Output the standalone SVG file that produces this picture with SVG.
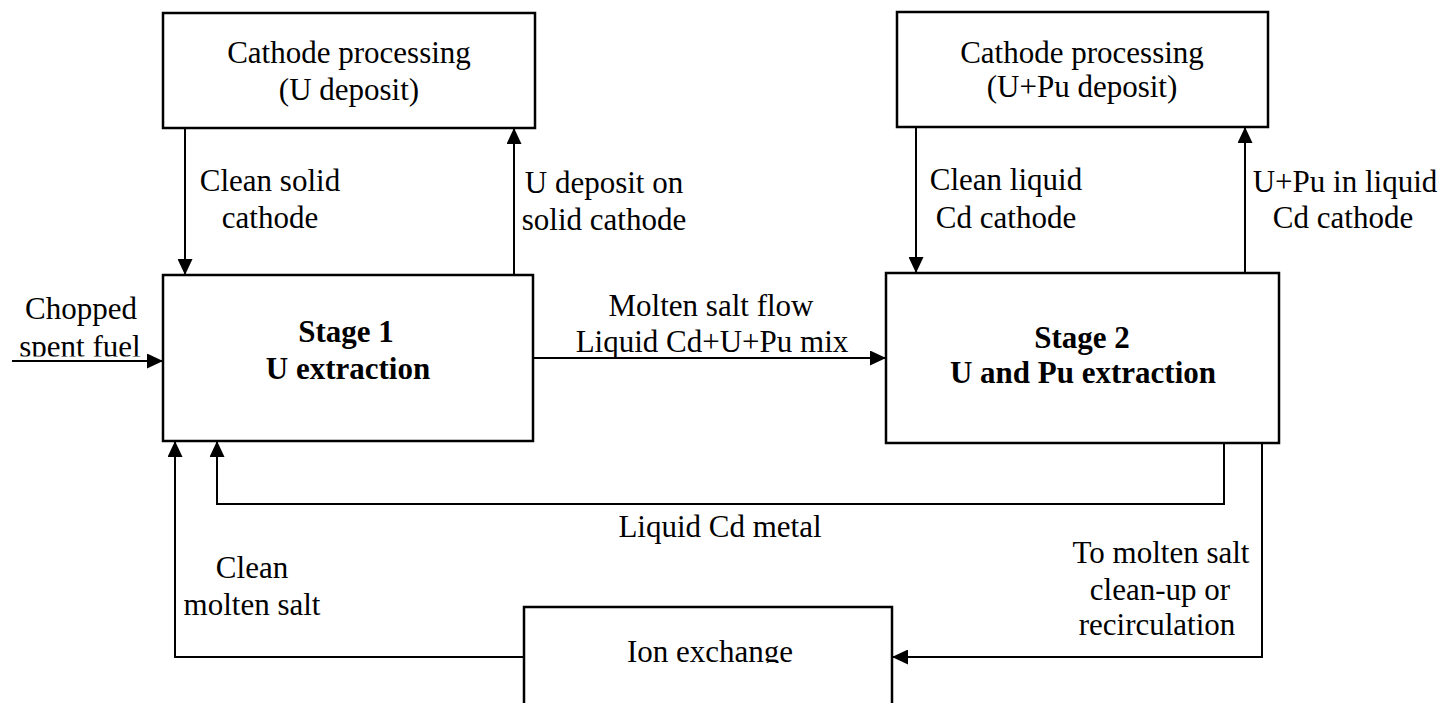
<svg xmlns="http://www.w3.org/2000/svg" width="1447" height="703" viewBox="0 0 1447 703">
<style>
.box{fill:#fff;stroke:#000;stroke-width:2.5}
.c{fill:none;stroke:#000;stroke-width:2}
text{font-family:"Liberation Serif","Times New Roman",serif;font-size:31px;fill:#000;text-anchor:middle}
.b{font-weight:bold}
</style>
<defs>
<marker id="ah" markerWidth="17" markerHeight="15" refX="16" refY="7.5" orient="auto" markerUnits="userSpaceOnUse">
<path d="M0,0 L16,7.5 L0,15 Z" fill="#000"/>
</marker>
<clipPath id="clipSpent"><rect x="0" y="320" width="160" height="36.5"/></clipPath>
<clipPath id="clipIon"><rect x="526" y="609" width="364" height="54"/></clipPath>
</defs>
<rect width="1447" height="703" fill="#fff"/>

<g id="connectors">
<line class="c" x1="185" y1="128" x2="185" y2="275" marker-end="url(#ah)"/>
<line class="c" x1="514" y1="275" x2="514" y2="128" marker-end="url(#ah)"/>
<line class="c" x1="916" y1="127" x2="916" y2="273" marker-end="url(#ah)"/>
<line class="c" x1="1245" y1="273" x2="1245" y2="127" marker-end="url(#ah)"/>
<line class="c" x1="12" y1="361" x2="163" y2="361" marker-end="url(#ah)"/>
<line class="c" x1="533" y1="358" x2="886" y2="358" marker-end="url(#ah)"/>
<polyline class="c" points="1224,443 1224,504 217,504 217,441" marker-end="url(#ah)"/>
<polyline class="c" points="1262,443 1262,657 892,657" marker-end="url(#ah)"/>
<polyline class="c" points="524,657 175,657 175,441" marker-end="url(#ah)"/>
<text x="270" y="191">Clean solid</text>
<text x="270" y="228">cathode</text>
<text x="604" y="193">U deposit on</text>
<text x="604" y="230">solid cathode</text>
<text x="1006" y="190">Clean liquid</text>
<text x="1006" y="228">Cd cathode</text>
<text x="1345" y="192">U+Pu in liquid</text>
<text x="1343" y="228">Cd cathode</text>
<text x="81" y="319">Chopped</text>
<text x="80" y="357" clip-path="url(#clipSpent)">spent fuel</text>
<text x="711" y="316">Molten salt flow</text>
<text x="712" y="352">Liquid Cd+U+Pu mix</text>
<text x="720" y="537">Liquid Cd metal</text>
<text x="252" y="578">Clean</text>
<text x="252" y="615">molten salt</text>
<text x="1161" y="563">To molten salt</text>
<text x="1160" y="600">clean-up or</text>
<text x="1157" y="635">recirculation</text>
</g>

<g id="cathode1">
<rect class="box" x="163" y="13" width="372" height="115"/>
<text x="349" y="63">Cathode processing</text>
<text x="349" y="100">(U deposit)</text>
</g>

<g id="cathode2">
<rect class="box" x="897" y="12" width="371" height="115"/>
<text x="1082" y="63">Cathode processing</text>
<text x="1082" y="97">(U+Pu deposit)</text>
</g>

<g id="stage1">
<rect class="box" x="163" y="275" width="370" height="166"/>
<text class="b" x="346" y="342">Stage 1</text>
<text class="b" x="348" y="379">U extraction</text>
</g>

<g id="stage2">
<rect class="box" x="886" y="273" width="393" height="170"/>
<text class="b" x="1082" y="348">Stage 2</text>
<text class="b" x="1083" y="383">U and Pu extraction</text>
</g>

<g id="ionexchange">
<rect class="box" x="524" y="607" width="368" height="120"/>
<text x="710" y="662" clip-path="url(#clipIon)">Ion exchange</text>
</g>
</svg>
